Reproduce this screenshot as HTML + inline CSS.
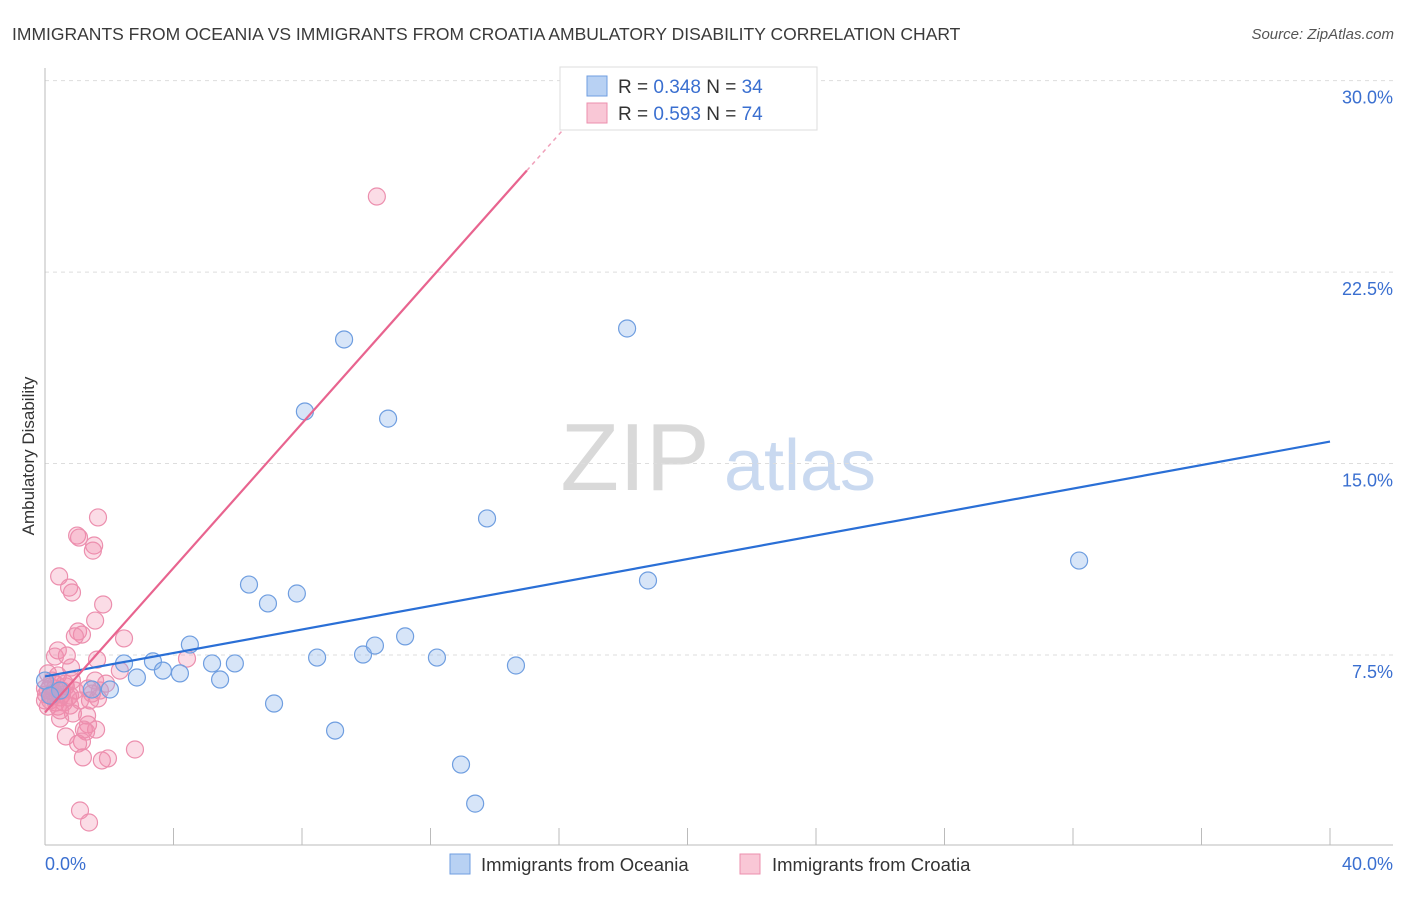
<!DOCTYPE html>
<html><head><meta charset="utf-8">
<style>
body{margin:0;background:#fff;font-family:"Liberation Sans",sans-serif;}
svg text{font-family:"Liberation Sans",sans-serif;}
</style></head>
<body>
<svg id="chart" width="1406" height="892" viewBox="0 0 1406 892">
<text x="12" y="40" font-size="17.5" fill="#3a3a3a">IMMIGRANTS FROM OCEANIA VS IMMIGRANTS FROM CROATIA AMBULATORY DISABILITY CORRELATION CHART</text>
<text x="1394" y="39" font-size="15" fill="#555" font-style="italic" text-anchor="end">Source: ZipAtlas.com</text>
<text transform="translate(34,456) rotate(-90)" font-size="17" fill="#333" text-anchor="middle">Ambulatory Disability</text>
<g>
<text x="635" y="490" font-size="96" fill="#d9d9d9" font-family="Liberation Serif,serif" text-anchor="middle">ZIP</text>
<text x="800" y="490" font-size="72" fill="#c9d9f0" text-anchor="middle">atlas</text>
</g>
<g id="grid"></g>
<g id="axes"></g>
<g id="marks"></g>
<g>
<rect x="560" y="67" width="257" height="63" fill="#fff" stroke="#ddd"/>
<rect x="587" y="76" width="20" height="20" fill="#b8d1f3" stroke="#6f9ee0"/>
<rect x="587" y="103" width="20" height="20" fill="#f9c7d6" stroke="#ec8fae"/>
<text x="618" y="93" font-size="19" fill="#333">R = <tspan fill="#3a6fd0">0.348</tspan>   N = <tspan fill="#3a6fd0">34</tspan></text>
<text x="618" y="120" font-size="19" fill="#333">R = <tspan fill="#3a6fd0">0.593</tspan>   N = <tspan fill="#3a6fd0">74</tspan></text>
</g>
<g>
<rect x="450" y="854" width="20" height="20" fill="#b8d1f3" stroke="#6f9ee0"/>
<text x="481" y="871" font-size="18.5" fill="#333">Immigrants from Oceania</text>
<rect x="740" y="854" width="20" height="20" fill="#f9c7d6" stroke="#ec8fae"/>
<text x="772" y="871" font-size="18.5" fill="#333">Immigrants from Croatia</text>
</g>
</svg>
<script>
const yTicks=[7.5,15,22.5,30];
const yTickLabels=["7.5%","15.0%","22.5%","30.0%"];
const xTickVals=[0,4,8,12,16,20,24,28,32,36,40];
const xEndLabels=["0.0%","40.0%"];
const oceaniaX=[0.0,2.02,2.46,2.86,3.36,3.67,4.2,4.51,5.2,5.45,5.91,6.35,6.94,7.13,7.84,8.09,8.47,9.03,9.31,9.9,10.27,10.68,11.21,12.2,12.95,13.39,13.76,14.66,18.12,18.77,32.19,1.46,0.47,0.16];
const oceaniaY=[6.5,6.15,7.17,6.62,7.25,6.89,6.78,7.91,7.17,6.54,7.17,10.26,9.52,5.6,9.91,17.04,7.4,4.54,19.86,7.52,7.87,16.76,8.23,7.4,3.21,1.68,12.85,7.09,20.29,10.42,11.2,6.15,6.11,5.91];
const croatiaX=[10.33,1.65,1.0,1.06,1.53,1.49,0.44,0.75,0.84,1.81,1.56,1.03,1.15,0.93,2.46,0.4,0.31,0.68,1.62,4.42,0.81,2.33,0.09,0.4,1.56,1.9,0.62,0.16,0.31,0.53,0.93,1.34,0.03,0.22,0.47,0.72,1.65,0,0.34,0.59,0.78,0.09,0.4,1.4,0.87,1.31,0.47,1.34,1.59,1.21,1.28,0.65,1.15,1.03,2.8,1.18,1.77,1.96,1.09,1.37,0.22,0.34,0.09,0.28,0.53,0.65,0.84,0,0.16,0.47,0.78,1.09,1.46,1.71];
const croatiaY=[25.46,12.89,12.18,12.1,11.79,11.59,10.58,10.14,9.95,9.48,8.85,8.42,8.3,8.23,8.15,7.68,7.44,7.48,7.32,7.36,7.01,6.89,6.78,6.7,6.5,6.38,6.38,6.27,6.19,6.11,6.11,6.19,5.95,5.88,5.84,5.84,5.8,5.72,5.64,5.64,5.52,5.48,5.48,5.72,5.21,5.13,5.01,4.78,4.58,4.58,4.5,4.31,4.11,4.03,3.8,3.49,3.37,3.45,1.41,0.94,6.5,6.35,6.11,6.03,5.95,6.27,6.5,6.19,5.72,5.33,5.91,5.72,5.99,6.11];
const oceaniaTrend=[6.66,15.86];
const croatiaTrend=[5.25,26.48,15.0,17.0];

const NS="http://www.w3.org/2000/svg";
const X0=45,X1=1330,Y0=846.5,PXPER=25.53;
const sx=v=>X0+(X1-X0)*v/40;
const sy=v=>Y0-v*PXPER;
function mk(tag,attrs,parent){const e=document.createElementNS(NS,tag);for(const k in attrs)e.setAttribute(k,attrs[k]);parent.appendChild(e);return e;}
const grid=document.getElementById('grid'),axes=document.getElementById('axes'),marks=document.getElementById('marks');
yTicks.forEach((t,i)=>{
 const l=mk('line',{x1:X0,x2:1393,y1:sy(t),y2:sy(t),stroke:'#ddd','stroke-dasharray':'4,4'},grid);
 
 
 const tx=mk('text',{x:1393,y:sy(t)+23,'font-size':18,fill:'#3a6fd0','text-anchor':'end'},grid);
 tx.textContent=yTickLabels[i];
 
 
});
const ax=mk('line',{x1:X0,x2:1393,y1:845,y2:845,stroke:'#bbb'},axes);


const ay=mk('line',{x1:X0,x2:X0,y1:68,y2:845,stroke:'#bbb'},axes);


xTickVals.forEach(v=>{
 const t=mk('line',{x1:sx(v),x2:sx(v),y1:828,y2:845,stroke:'#bbb'},axes);
 
 
});
const xl0=mk('text',{x:45,y:870,'font-size':18,fill:'#3a6fd0'},axes);xl0.textContent=xEndLabels[0];


const xl1=mk('text',{x:1393,y:870,'font-size':18,fill:'#3a6fd0','text-anchor':'end'},axes);xl1.textContent=xEndLabels[1];



croatiaX.forEach((x,i)=>{
 const c=mk('circle',{cx:sx(x),cy:sy(croatiaY[i]),r:8.5,fill:'rgba(242,140,172,0.3)',stroke:'#ec8fae','stroke-width':1.2},marks);
 
 
});
oceaniaX.forEach((x,i)=>{
 const c=mk('circle',{cx:sx(x),cy:sy(oceaniaY[i]),r:8.5,fill:'rgba(140,180,236,0.35)',stroke:'#6f9ee0','stroke-width':1.2},marks);
 
 
});
const bl=mk('line',{x1:sx(0),y1:sy(oceaniaTrend[0]),x2:sx(40),y2:sy(oceaniaTrend[1]),stroke:'#2a6fd6','stroke-width':2.2},marks);


const slope=(croatiaTrend[1]-croatiaTrend[0])/croatiaTrend[2];
const pl=mk('line',{x1:sx(0),y1:sy(croatiaTrend[0]),x2:sx(croatiaTrend[2]),y2:sy(croatiaTrend[1]),stroke:'#e8648f','stroke-width':2.2},marks);


const pd=mk('line',{x1:sx(croatiaTrend[2]),y1:sy(croatiaTrend[1]),x2:sx(croatiaTrend[3]),y2:sy(croatiaTrend[0]+slope*croatiaTrend[3]),stroke:'#f0a0ba','stroke-width':1.5,'stroke-dasharray':'4,4'},marks);


</script>
</body></html>
